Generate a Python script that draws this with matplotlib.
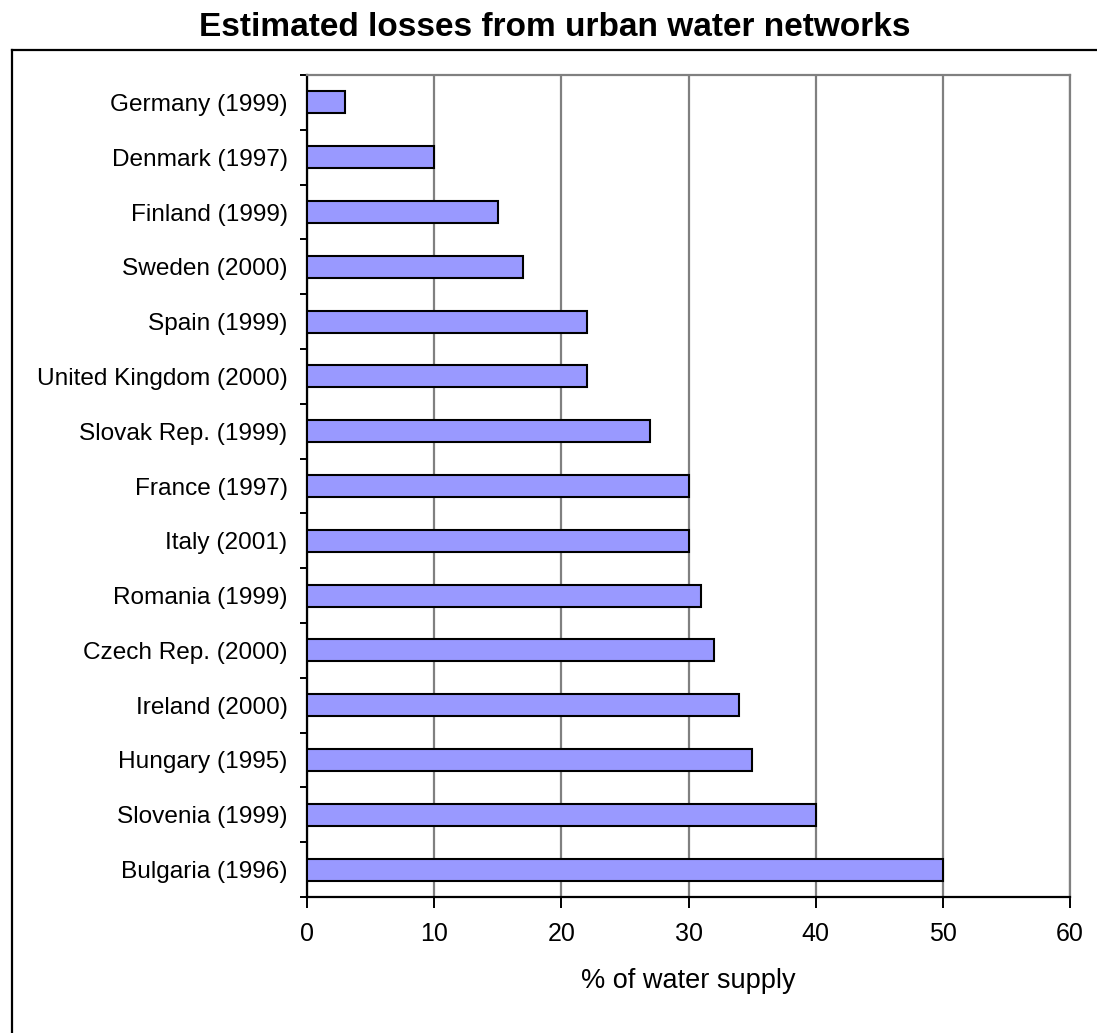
import matplotlib
matplotlib.use("Agg")
import matplotlib.pyplot as plt
from matplotlib.lines import Line2D
import numpy as np

plt.rcParams['font.family'] = ['Liberation Sans', 'DejaVu Sans']

countries = [
    "Germany (1999)", "Denmark (1997)", "Finland (1999)", "Sweden (2000)",
    "Spain (1999)", "United Kingdom (2000)", "Slovak Rep. (1999)",
    "France (1997)", "Italy (2001)", "Romania (1999)", "Czech Rep. (2000)",
    "Ireland (2000)", "Hungary (1995)", "Slovenia (1999)", "Bulgaria (1996)",
]
losses = [3, 10, 15, 17, 22, 22, 27, 30, 30, 31, 32, 34, 35, 40, 50]
x_ticks = [0, 10, 20, 30, 40, 50, 60]

W, H = 1097, 1033
fig = plt.figure(figsize=(W / 100, H / 100), dpi=100)
fig.patch.set_facecolor("white")

# frame around the chart (left and top edges visible)
fig.add_artist(Line2D([12 / W, 12 / W], [1 - 50 / H, -0.1], transform=fig.transFigure,
                      color="black", lw=1.6))
fig.add_artist(Line2D([12 / W, 1.1], [1 - 50 / H, 1 - 50 / H], transform=fig.transFigure,
                      color="black", lw=1.6))

ax = fig.add_axes([307 / W, 1 - 897 / H, (1070 - 307) / W, (897 - 75) / H])

y = np.arange(len(countries))
ax.barh(y, losses, height=0.4, color="#9999FF", edgecolor="black", linewidth=1.5, zorder=3)

ax.set_xlim(0, 60)
ax.set_ylim(len(countries) - 0.5, -0.5)

ax.set_xticks(x_ticks)
ax.set_xticklabels([str(v) for v in x_ticks], fontsize=18)
ax.tick_params(axis="x", direction="out", length=8, width=1.4, pad=10, color="black")

ax.set_yticks(y)
ax.set_yticklabels(countries, fontsize=17.6)
ax.tick_params(axis="y", which="major", length=0, pad=14)
ax.set_yticks(np.arange(len(countries) + 1) - 0.5, minor=True)
ax.tick_params(axis="y", which="minor", direction="out", length=5, width=1.4, color="black")

ax.grid(axis="x", color="#808080", linewidth=1.6, zorder=0)
ax.set_axisbelow(True)

for side in ("left", "bottom"):
    ax.spines[side].set_color("black")
    ax.spines[side].set_linewidth(1.6)
for side in ("top", "right"):
    ax.spines[side].set_color("#808080")
    ax.spines[side].set_linewidth(1.6)

ax.set_xlabel("% of water supply", fontsize=19.5, labelpad=16)

fig.text(555 / W, 1 - 27 / H, "Estimated losses from urban water networks",
         ha="center", va="center", fontsize=24, fontweight="bold")

fig.savefig("out.png", dpi=100, facecolor="white")
